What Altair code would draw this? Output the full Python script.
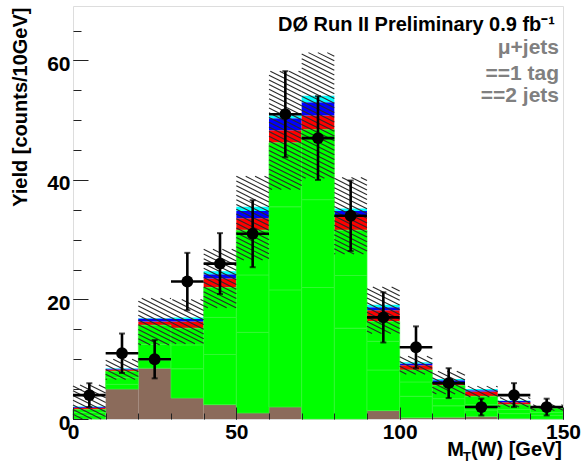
import altair as alt
import numpy as np
import pandas as pd

# ---------------- data ----------------
bin_lo = [0, 10, 20, 30, 40, 50, 60, 70, 80, 90, 100, 110, 120, 130, 140]
qcd   = [0.0, 5.0, 8.5, 3.5, 2.4, 1.0, 2.0, 0.0, 0.0, 1.4, 0.2, 0.3, 0.4, 0.1, 0.0]
w_lp  = [0.6, 0.8, 1.3, 4.9, 8.4, 13.5, 19.6, 22.0, 15.2, 6.8, 3.6, 1.9, 1.1, 0.8, 0.6]
w_cc  = [0.5, 1.1, 2.7, 4.0, 6.2, 9.6, 13.9, 14.7, 8.8, 4.8, 2.4, 1.2, 0.9, 0.7, 0.5]
w_bb  = [0.5, 1.1, 3.2, 2.8, 5.0, 7.5, 10.7, 11.7, 7.6, 3.3, 2.0, 2.2, 1.4, 0.8, 0.7]
ttbar = [0.3, 0.3, 0.6, 1.1, 1.5, 2.0, 2.1, 2.4, 2.4, 1.9, 0.8, 0.5, 0.8, 0.4, 0.1]
tb    = [0.1, 0.1, 0.5, 0.45, 0.7, 1.2, 2.0, 2.2, 0.8, 0.5, 0.3, 0.4, 0.2, 0.2, 0.1]
tqb   = [0.1, 0.1, 0.1, 0.25, 0.5, 0.7, 0.5, 1.1, 0.4, 0.4, 0.2, 0.2, 0.2, 0.1, 0.1]
bkg_err = [3.8, 1.7, 3.9, 3.7, 4.9, 7.0, 9.9, 10.5, 6.4, 3.9, 1.5, 1.9, 0.9, 0.8, 0.5]
data_val = [4, 11, 10, 23, 26, 31, 51, 47, 34, 17, 12, 6, 2, 4, 2]
data_err = [2.0, 3.3, 3.2, 4.8, 5.1, 5.6, 7.2, 7.0, 5.9, 4.2, 3.5, 2.5, 1.4, 2.0, 1.4]

bin_w = 10
x_ticks_major = [0, 50, 100, 150]
x_ticks_minor = list(range(0, 151, 10))
y_ticks_major = [0, 20, 40, 60]
y_ticks_minor = list(range(0, 70, 5))
info_lines = ["DØ Run II Preliminary 0.9 fb⁻¹", "μ+jets", "==1 tag", "==2 jets"]

# ---------------- layout ----------------
W, H = 490, 413
XMAX, YMAX = 150, 69.1
FONT = "Liberation Sans"

xs = alt.Scale(domain=[0, XMAX], nice=False, zero=False)
ys = alt.Scale(domain=[0, YMAX], nice=False, zero=False)

# ---------------- stacked components ----------------
comps = [("QCD", qcd), ("W+lp", w_lp), ("W+cc", w_cc), ("W+bb", w_bb),
         ("ttbar", ttbar), ("tb", tb), ("tqb", tqb)]
comp_colors = ["#8b6b5b", "#00ff00", "#00ff00", "#00ff00", "#ff0000", "#0000ff", "#00ffff"]
rows = []
bkg_top = []
for i, x0 in enumerate(bin_lo):
    base = 0.0
    for name, vals in comps:
        v = vals[i]
        rows.append(dict(x0=x0, x1=x0 + bin_w, y0=base, y1=base + v, comp=name,
                         green=name.startswith("W")))
        base += v
        if name == "ttbar":
            bkg_top.append(base)
stack_df = pd.DataFrame(rows)

# hatched background-uncertainty band (computed from band limits, data space)
k = 0.5 * (W / XMAX) / (H / YMAX)      # slope in counts per GeV for a 0.5 px/px line
d = 4.7 / (H / YMAX)                    # vertical spacing in counts
hrows = []
for i, x0 in enumerate(bin_lo):
    x1 = x0 + bin_w
    lo = max(0.0, bkg_top[i] - bkg_err[i])
    hi = bkg_top[i] + bkg_err[i]
    jmin = int(np.floor(lo / d)) - 2
    jmax = int(np.ceil((hi + k * x1) / d)) + 2
    for j in range(jmin, jmax + 1):
        c = j * d
        xa = (c - hi) / k
        xb = (c - lo) / k
        s = max(x0, xa)
        e = min(x1, xb)
        if e - s > 0.05:
            hrows.append(dict(xs=s, xe=e, ys=c - k * s, ye=c - k * e))
hatch_df = pd.DataFrame(hrows)

pts_df = pd.DataFrame(dict(
    xc=[b + bin_w / 2 for b in bin_lo],
    x0=bin_lo,
    x1=[b + bin_w for b in bin_lo],
    y=data_val,
    ylo=[v - e for v, e in zip(data_val, data_err)],
    yhi=[v + e for v, e in zip(data_val, data_err)],
))

# ---------------- axes ----------------
ax_x_labels = alt.Axis(values=x_ticks_major, format="d", ticks=False, tickSize=0, domain=False,
                       grid=False, labelFontSize=21, labelFontWeight="bold", labelColor="#000",
                       labelPadding=2, labelFlush=False, title=None, labelFont=FONT)
ax_y_labels = alt.Axis(values=y_ticks_major, format="d", ticks=False, tickSize=0, domain=False,
                       grid=False, labelFontSize=21, labelFontWeight="bold", labelColor="#000",
                       labelPadding=3, labelOffset=4, labelFlush=False, labelFont=FONT,
                       title="Yield [counts/10GeV]", titleFontSize=20, titleFontWeight="bold",
                       titleColor="#000", titleFont=FONT, titleAngle=270, titleAlign="right",
                       titleAnchor="end", titleBaseline="alphabetic", titleX=-47, titleY=1)
ax_x_major = alt.Axis(orient="top", offset=-H, values=x_ticks_major, labels=False, domain=False,
                      grid=False, tickSize=12, tickColor="#222", tickWidth=1, title=None, zindex=2)
ax_y_major = alt.Axis(orient="right", offset=-W, values=y_ticks_major, labels=False, domain=False,
                      grid=False, tickSize=15, tickColor="#222", tickWidth=1, title=None, zindex=2)
ax_x_minor = alt.Axis(orient="top", offset=-H, values=x_ticks_minor, labels=False, domain=False,
                      grid=False, tickSize=6, tickColor="#222", tickWidth=1, title=None, zindex=2)
ax_y_minor = alt.Axis(orient="right", offset=-W, values=y_ticks_minor, labels=False, domain=False,
                      grid=False, tickSize=8, tickColor="#222", tickWidth=1, title=None, zindex=2)

# ---------------- layers ----------------
other = alt.Chart(stack_df).transform_filter("!datum.green").mark_rect().encode(
    x=alt.X("x0:Q", scale=xs, axis=ax_x_labels),
    x2="x1:Q",
    y=alt.Y("y0:Q", scale=ys, axis=ax_y_labels),
    y2="y1:Q",
    color=alt.Color("comp:N", scale=alt.Scale(domain=[c[0] for c in comps], range=comp_colors),
                    legend=None),
)
greens = alt.Chart(stack_df).transform_filter("datum.green").mark_rect(
    color="#00ff00", stroke="#38f838", strokeWidth=0.7
).encode(
    x=alt.X("x0:Q", scale=xs, axis=None), x2="x1:Q",
    y=alt.Y("y0:Q", scale=ys, axis=None), y2="y1:Q",
)
hatch = alt.Chart(hatch_df).mark_rule(color="#2a2a2a", strokeWidth=1.1).encode(
    x=alt.X("xs:Q", scale=xs, axis=ax_x_major), x2="xe:Q",
    y=alt.Y("ys:Q", scale=ys, axis=ax_y_major), y2="ye:Q",
)
vbar = alt.Chart(pts_df).mark_rule(color="#000", strokeWidth=2.6).encode(
    x=alt.X("xc:Q", scale=xs, axis=None),
    y=alt.Y("ylo:Q", scale=ys, axis=None), y2="yhi:Q",
)
hbar = alt.Chart(pts_df).mark_rule(color="#000", strokeWidth=2.6).encode(
    x=alt.X("x0:Q", scale=xs, axis=None), x2="x1:Q",
    y=alt.Y("y:Q", scale=ys, axis=None),
)
cap_lo = alt.Chart(pts_df).mark_tick(color="#000", thickness=2, size=6, orient="horizontal").encode(
    x=alt.X("xc:Q", scale=xs, axis=None), y=alt.Y("ylo:Q", scale=ys, axis=None))
cap_hi = alt.Chart(pts_df).mark_tick(color="#000", thickness=2, size=6, orient="horizontal").encode(
    x=alt.X("xc:Q", scale=xs, axis=None), y=alt.Y("yhi:Q", scale=ys, axis=None))
pts = alt.Chart(pts_df).mark_circle(color="#000", opacity=1, size=140).encode(
    x=alt.X("xc:Q", scale=xs, axis=ax_x_minor),
    y=alt.Y("y:Q", scale=ys, axis=ax_y_minor),
)

def label(text, px, py, size, color="#000", align="right", weight="bold", font=FONT):
    return alt.Chart(pd.DataFrame({"t": [text]})).mark_text(
        align=align, baseline="alphabetic", fontSize=size, fontWeight=weight,
        color=color, font=font
    ).encode(text="t:N", x=alt.value(px), y=alt.value(py))

texts = [
    label(info_lines[0], 482, 24.5, 20),
    label(info_lines[1], 486, 47.5, 21, color="#808080"),
    label(info_lines[2], 486, 74, 21, color="#808080"),
    label(info_lines[3], 486, 96, 21, color="#808080"),
    # x-axis title  M_T(W) [GeV]
    label("(W) [GeV]", 489, 450, 20),
    label("T", 398, 455, 13),
    label("M", 391, 450, 20),
]

chart = alt.layer(other, greens, hatch, vbar, hbar, cap_lo, cap_hi, pts, *texts).resolve_axis(
    x="independent", y="independent"
).properties(
    width=W, height=H,
    autosize=alt.AutoSizeParams(type="none"),
    padding={"left": 73, "top": 6, "right": 18, "bottom": 51},
).configure_view(
    stroke="#7f7f7f", strokeWidth=1.5
).configure(background="white")

chart.save("out.html", embed_options={"renderer": "svg", "actions": False})
